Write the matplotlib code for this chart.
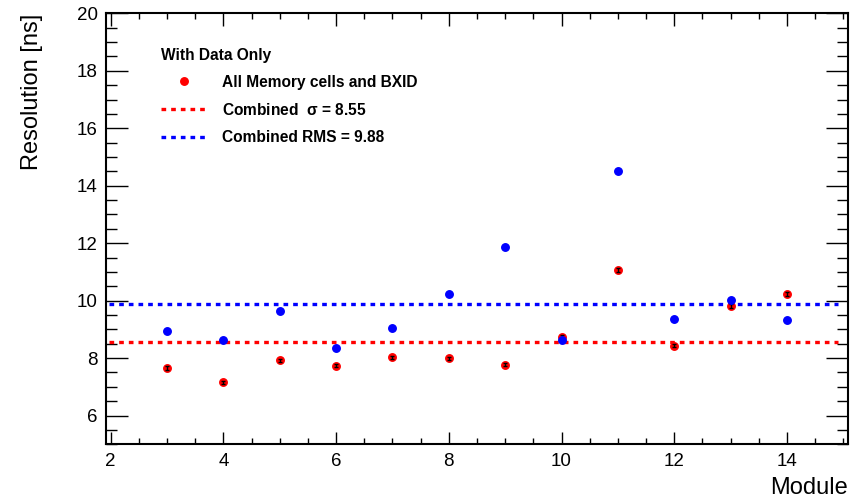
"""
Timing resolution per module, ROOT-style plot recreated with matplotlib.
"""
import numpy as np
import matplotlib
matplotlib.use("Agg")
import matplotlib.pyplot as plt
from matplotlib.lines import Line2D
from matplotlib.ticker import MultipleLocator

plt.rcParams["font.family"] = ["Liberation Sans", "DejaVu Sans"]
plt.rcParams["mathtext.fontset"] = "stix"
plt.rcParams["mathtext.default"] = "regular"

# ── Data ─────────────────────────────────────────────────────────────────────
modules = [3, 4, 5, 6, 7, 8, 9, 10, 11, 12, 13, 14]
sigma_fit = [7.65, 7.16, 7.92, 7.74, 8.03, 7.99, 7.77, 8.72, 11.07, 8.43, 9.81, 10.23]
sigma_err = [0.06, 0.05, 0.05, 0.06, 0.06, 0.05, 0.05, 0.08, 0.07, 0.06, 0.07, 0.08]
rms_vals = [8.93, 8.64, 9.65, 8.35, 9.05, 10.24, 11.86, 8.63, 14.52, 9.36, 10.01, 9.32]

combined_sigma = 8.55
combined_rms = 9.88
line_range = [1.97, 14.9]

legend_title = "With Data Only"
label_points = "All Memory cells and BXID"
label_sigma = r"Combined  $\sigma$ = 8.55"
label_rms = "Combined RMS = 9.88"


fig = plt.figure(figsize=(8.59, 4.99), dpi=100)
ax = fig.add_axes([0.1235, 0.1096, 0.8635, 0.8637])

# combined lines
dash = (0, (1.4, 1.5))
(l_sigma,) = ax.plot(line_range, [combined_sigma] * 2, color="#ff0000", lw=2.4,
                     linestyle=dash, dash_capstyle="butt", zorder=2)
(l_rms,) = ax.plot(line_range, [combined_rms] * 2, color="#0000ff", lw=2.4,
                   linestyle=dash, dash_capstyle="butt", zorder=2)

# per-module points: red fit sigma with black error bars on top, blue RMS
ax.plot(modules, sigma_fit, "o", color="#ff0000", ms=5.4, zorder=3)
ax.errorbar(modules, sigma_fit, yerr=sigma_err, fmt="none", ecolor="black",
            elinewidth=1.0, capsize=1.3, capthick=1.0, zorder=4)
ax.plot(modules, rms_vals, "o", color="#0000ff", ms=5.4, zorder=5)

ax.set_xlim(1.92, 15.08)
ax.set_ylim(5, 20)

ax.xaxis.set_major_locator(MultipleLocator(2))
ax.xaxis.set_minor_locator(MultipleLocator(0.5))
ax.yaxis.set_major_locator(MultipleLocator(2))
ax.yaxis.set_minor_locator(MultipleLocator(0.5))
ax.set_yticks([6, 8, 10, 12, 14, 16, 18, 20])

ax.tick_params(axis="both", which="both", direction="in", top=True, right=True,
               width=1.0, labelsize=13.5)
ax.tick_params(axis="y", which="major", length=16, pad=6)
ax.tick_params(axis="y", which="minor", length=8)
ax.tick_params(axis="x", which="major", length=9, pad=6)
ax.tick_params(axis="x", which="minor", length=4.5)
for side in ax.spines.values():
    side.set_linewidth(1.5)

ax.set_xlabel("Module", fontsize=17, loc="right", labelpad=5)
ax.set_ylabel("Resolution [ns]", fontsize=17, loc="top", labelpad=24)

# legend (ROOT TLegend look: no frame, bold header)
h_points = Line2D([], [], ls="none", marker="o", color="#ff0000", ms=5.4)
leg = ax.legend(handles=[h_points, l_sigma, l_rms],
                labels=[label_points, label_sigma, label_rms],
                title=legend_title, loc="upper left",
                bbox_to_anchor=(0.066, 0.935), frameon=False,
                prop={"weight": "bold", "size": 11.2},
                title_fontproperties={"weight": "bold", "size": 11.2},
                alignment="left", handlelength=2.9, handletextpad=1.0,
                labelspacing=0.78, borderaxespad=0)
for t in leg.get_texts():
    t.set_fontweight("bold")

fig.savefig("out.png", dpi=100)
